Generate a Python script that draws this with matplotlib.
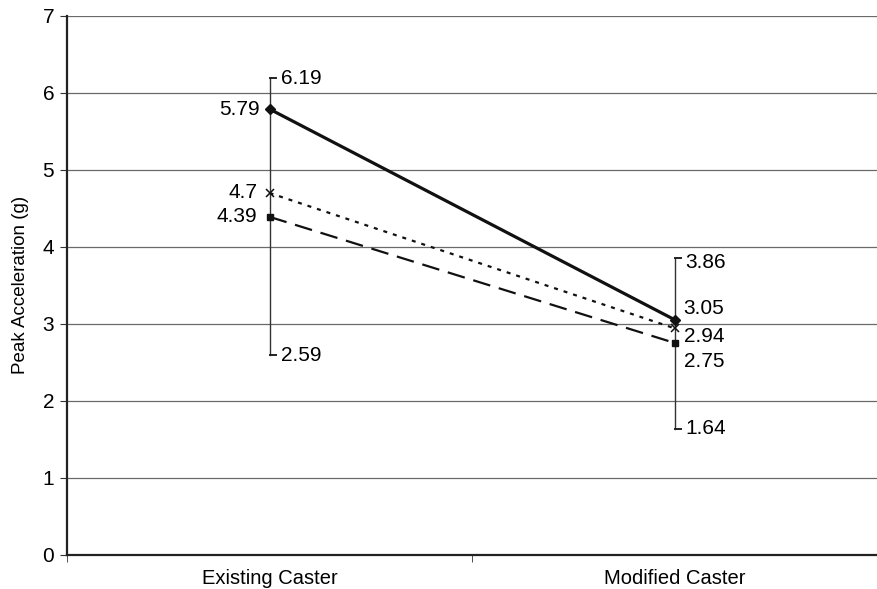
import numpy as np
import matplotlib.pyplot as plt

plt.rcParams['font.family'] = ['Liberation Sans', 'DejaVu Sans']
plt.rcParams['font.size'] = 15

# Data
categories = ['Existing Caster', 'Modified Caster']
high = [6.19, 3.86]
low = [2.59, 1.64]
peak = [5.79, 3.05]      # solid, diamond
median = [4.7, 2.94]     # dotted, x
mean = [4.39, 2.75]      # dashed, square

x = np.array([0.5, 1.5])

fig, ax = plt.subplots(figsize=(8.78, 5.89), dpi=100)
fig.subplots_adjust(left=0.076, right=1.0, top=0.973, bottom=0.058)

# grid
for yv in range(1, 8):
    ax.axhline(yv, color='#6a6a6a', lw=0.9, zorder=0)

# high-low bars
for xi, h, l in zip(x, high, low):
    ax.plot([xi, xi], [l, h], color='#333333', lw=1.0, zorder=2)
    ax.plot([xi, xi + 0.015], [h, h], color='#222222', lw=1.4, zorder=2)
    ax.plot([xi, xi + 0.015], [l, l], color='#222222', lw=1.4, zorder=2)

ax.plot(x, peak, color='#111111', lw=2.3, marker='D', ms=5, zorder=3)
ax.plot(x, median, color='#111111', lw=1.6, ls=(0, (1.8, 2.7)), marker='x', ms=6,
        mew=1.1, zorder=3)
ax.plot(x, mean, color='#111111', lw=1.6, ls=(0, (8, 4)), marker='s', ms=5, zorder=3)

# value labels
def lab(xv, yv, dx, dy, ha):
    ax.annotate(f'{yv:g}', (xv, yv), xytext=(dx, dy), textcoords='offset points',
                ha=ha, va='center', fontsize=15)

lab(x[0], high[0], 8, 0, 'left')
lab(x[0], low[0], 8, 0, 'left')
lab(x[0], peak[0], -7, 0, 'right')
lab(x[0], median[0], -9, 0, 'right')
lab(x[0], mean[0], -9, 0, 'right')

lab(x[1], high[1], 7, -3.6, 'left')
lab(x[1], peak[1], 6, 8.6, 'left')
lab(x[1], median[1], 6, -5.8, 'left')
lab(x[1], mean[1], 6, -13, 'left')
lab(x[1], low[1], 7, 0, 'left')

ax.set_xlim(0, 1.983)
ax.set_ylim(0, 7)
ax.set_yticks(range(0, 8))
ax.set_xticks([0, 1, 2], minor=True)
ax.set_xticks(x)
ax.set_xticklabels(categories, fontsize=14.5)
ax.tick_params(axis='x', which='major', length=0, pad=10)
ax.tick_params(axis='x', which='minor', length=5, color='#333333')
ax.tick_params(axis='y', length=5, color='#333333', pad=4)
ax.set_ylabel('Peak Acceleration (g)', fontsize=13.5, labelpad=10)

ax.spines['right'].set_visible(False)
ax.spines['top'].set_visible(False)
ax.spines['left'].set_color('#222222')
ax.spines['left'].set_linewidth(1.6)
ax.spines['bottom'].set_color('#222222')
ax.spines['bottom'].set_linewidth(1.6)

plt.savefig('out.png', dpi=100)
